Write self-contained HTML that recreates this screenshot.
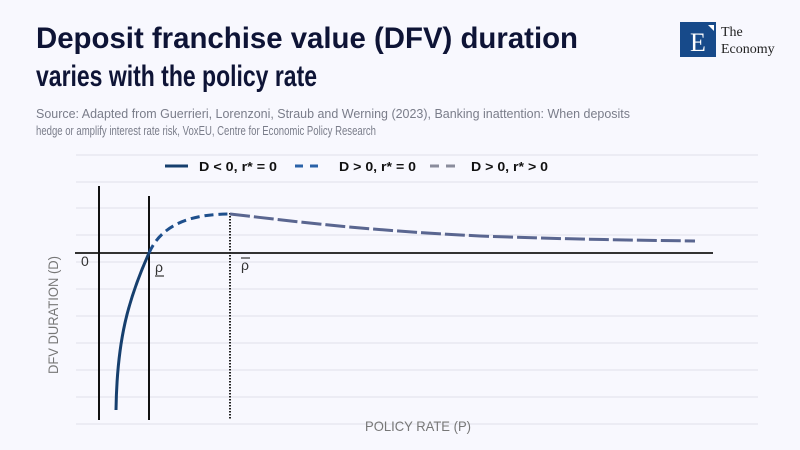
<!DOCTYPE html>
<html><head><meta charset="utf-8"><style>
html,body{margin:0;padding:0;background:#f8f8fe;}
svg{display:block;}
</style></head><body>
<svg width="800" height="450" viewBox="0 0 800 450" xmlns="http://www.w3.org/2000/svg">
<rect width="800" height="450" fill="#f8f8fe"/>
<g font-family="Liberation Sans, sans-serif">
<text x="36" y="48" font-size="30" font-weight="bold" fill="#0e1436" textLength="542" lengthAdjust="spacingAndGlyphs">Deposit franchise value (DFV) duration</text>
<text x="36" y="86" font-size="30" font-weight="bold" fill="#0e1436" textLength="281" lengthAdjust="spacingAndGlyphs">varies with the policy rate</text>
<text x="36" y="118" font-size="12.5" fill="#7a7d8a" textLength="594" lengthAdjust="spacingAndGlyphs">Source: Adapted from Guerrieri, Lorenzoni, Straub and Werning (2023), Banking inattention: When deposits</text>
<text x="36" y="135" font-size="12.5" fill="#7a7d8a" textLength="340" lengthAdjust="spacingAndGlyphs">hedge or amplify interest rate risk, VoxEU, Centre for Economic Policy Research</text>
</g>
<rect x="680" y="22" width="36" height="35" fill="#174a8a"/>
<text x="698" y="51" font-family="Liberation Serif, serif" font-size="26" fill="#fff" text-anchor="middle">E</text>
<polygon points="708,25 714,25 714,31" fill="#fff"/>
<text x="721" y="36" font-family="Liberation Serif, serif" font-size="14" fill="#222">The</text>
<text x="721" y="53" font-family="Liberation Serif, serif" font-size="14" fill="#222">Economy</text>
<g stroke="#dfe1ea" stroke-width="1">
<line x1="76" y1="155" x2="758" y2="155"/>
<line x1="76" y1="182" x2="758" y2="182"/>
<line x1="76" y1="208" x2="758" y2="208"/>
<line x1="76" y1="235" x2="758" y2="235"/>
<line x1="76" y1="262" x2="758" y2="262"/>
<line x1="76" y1="289" x2="758" y2="289"/>
<line x1="76" y1="316" x2="758" y2="316"/>
<line x1="76" y1="343" x2="758" y2="343"/>
<line x1="76" y1="370" x2="758" y2="370"/>
<line x1="76" y1="397" x2="758" y2="397"/>
<line x1="76" y1="424" x2="758" y2="424"/>
</g>
<g font-family="Liberation Sans, sans-serif" font-size="13" font-weight="bold" fill="#111">
<line x1="165" y1="166" x2="188" y2="166" stroke="#163f6e" stroke-width="3"/>
<text x="199" y="171" textLength="78" lengthAdjust="spacingAndGlyphs">D &lt; 0, r* = 0</text>
<line x1="295" y1="166" x2="318" y2="166" stroke="#2a62a8" stroke-width="3" stroke-dasharray="8,7"/>
<text x="339" y="171" textLength="77" lengthAdjust="spacingAndGlyphs">D &gt; 0, r* = 0</text>
<line x1="430" y1="166" x2="460" y2="166" stroke="#8a8c9c" stroke-width="3" stroke-dasharray="9,7"/>
<text x="471" y="171" textLength="77" lengthAdjust="spacingAndGlyphs">D &gt; 0, r* &gt; 0</text>
</g>
<line x1="75" y1="253" x2="713" y2="253" stroke="#333" stroke-width="2"/>
<line x1="99" y1="186" x2="99" y2="420" stroke="#111" stroke-width="2"/>
<line x1="149" y1="196" x2="149" y2="420" stroke="#111" stroke-width="2"/>
<line x1="230" y1="213" x2="230" y2="420" stroke="#222" stroke-width="2" stroke-dasharray="1.5,1.5"/>
<path d="M116,410 C117,340 128,300 149,253" fill="none" stroke="#163f6e" stroke-width="3"/>
<path d="M149,253 C160,228 185,214 230,214" fill="none" stroke="#1e4f8c" stroke-width="3" stroke-dasharray="9,5"/>
<path d="M230,214 C300,222 360,230 480,236 C560,239 620,240 695,241" fill="none" stroke="#5a6690" stroke-width="3" stroke-dasharray="20,4"/>
<g font-family="Liberation Sans, sans-serif" fill="#333" font-size="14">
<text x="81" y="266">0</text>
<text x="155" y="272">ρ</text>
<line x1="155" y1="276" x2="164" y2="276" stroke="#333" stroke-width="1.2"/>
<text x="241" y="270">ρ</text>
<line x1="241" y1="258" x2="250" y2="258" stroke="#333" stroke-width="1.2"/>
</g>
<text x="418" y="431" font-family="Liberation Sans, sans-serif" font-size="14" fill="#777" text-anchor="middle" textLength="106" lengthAdjust="spacingAndGlyphs">POLICY RATE (P)</text>
<text transform="translate(58,315) rotate(-90)" font-family="Liberation Sans, sans-serif" font-size="14" fill="#777" text-anchor="middle" textLength="118" lengthAdjust="spacingAndGlyphs">DFV DURATION (D)</text>
</svg>
</body></html>
